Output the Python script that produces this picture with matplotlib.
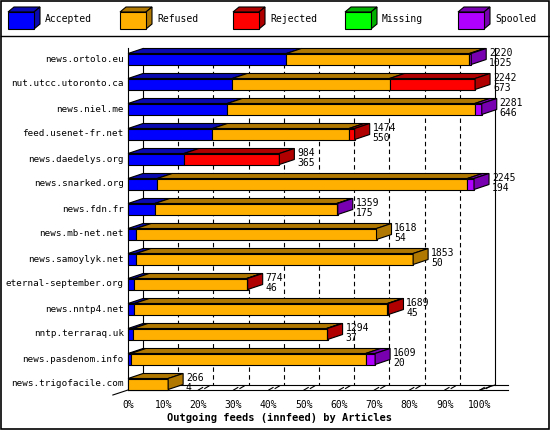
import matplotlib.pyplot as plt
from matplotlib.patches import Polygon, Rectangle

# ---- data (percent of articles per feed) ----
feeds = ['news.ortolo.eu', 'nut.utcc.utoronto.ca', 'news.niel.me', 'feed.usenet-fr.net',
         'news.daedelys.org', 'news.snarked.org', 'news.fdn.fr', 'news.mb-net.net',
         'news.samoylyk.net', 'eternal-september.org', 'news.nntp4.net', 'nntp.terraraq.uk',
         'news.pasdenom.info', 'news.trigofacile.com']
accepted = [45.0, 29.6, 28.2, 24.0, 15.9, 8.3, 7.6, 2.3, 2.3, 1.8, 1.8, 1.4, 0.8, 0.0]
refused = [52.0, 44.7, 70.3, 38.8, 0.0, 88.1, 51.7, 68.3, 78.7, 31.9, 71.9, 55.0, 66.7, 11.4]
rejected = [0.0, 24.3, 0.0, 1.6, 27.1, 0.0, 0.0, 0.0, 0.0, 0.3, 0.3, 0.3, 0.0, 0.0]
missing = [0.0] * 14
spooled = [0.5, 0.0, 2.0, 0.0, 0.0, 1.9, 0.3, 0.0, 0.0, 0.0, 0.0, 0.0, 2.7, 0.0]
offered = [2220, 2242, 2281, 1474, 984, 2245, 1359, 1618, 1853, 774, 1689, 1294, 1609, 266]
acc_count = [1025, 673, 646, 550, 365, 194, 175, 54, 50, 46, 45, 37, 20, 4]

series = [('Accepted', accepted, '#0000ff', '#0a0ab0'),
          ('Refused', refused, '#ffb000', '#b07800'),
          ('Rejected', rejected, '#ff0000', '#b00000'),
          ('Missing', missing, '#00ff00', '#00b000'),
          ('Spooled', spooled, '#b000ff', '#7800b0')]

MONO = 'DejaVu Sans Mono'
fig = plt.figure(figsize=(5.5, 4.3), dpi=100)

# background decoration axes in pixel units (frame + legend)
bg = fig.add_axes([0, 0, 1, 1])
bg.set_xlim(0, 550)
bg.set_ylim(430, 0)
bg.axis('off')
bg.add_patch(Rectangle((1, 1), 548, 428, fill=False, lw=1.2, ec='black'))
bg.plot([1, 549], [36, 36], color='black', lw=1)
leg_x = [8, 120, 233, 345, 458]
for (name, _, fc, dc), lx in zip(series, leg_x):
    bg.add_patch(Polygon([(lx, 12), (lx + 6, 7), (lx + 32, 7), (lx + 26, 12)], fc=dc, ec='black', lw=0.8))
    bg.add_patch(Polygon([(lx + 26, 12), (lx + 32, 7), (lx + 32, 24), (lx + 26, 29)], fc=dc, ec='black', lw=0.8))
    bg.add_patch(Rectangle((lx, 12), 26, 17, fc=fc, ec='black', lw=0.8))
    bg.text(lx + 37, 19, name, family=MONO, fontsize=7, va='center', ha='left')

# plot axes: x in percent (0..100 -> px 128..480), y in rows (row i front centre at px 59+25i)
x0, x1 = 128, 480
ytop_px, ybot_px = 40, 395
ax = fig.add_axes([x0 / 550, 1 - ybot_px / 430, (x1 - x0) / 550, (ybot_px - ytop_px) / 430])
ax.set_xlim(0, 100)
ax.set_ylim((ybot_px - 59) / 25, (ytop_px - 59) / 25)
ax.axis('off')

dx = 15 / 3.52
dy = 0.2
h = 0.44
ytop = (ytop_px - 59) / 25
floor_front = 13.24
floor_back = floor_front - dy

kw = dict(clip_on=False)
for p in range(10, 100, 10):
    ax.plot([p + dx, p + dx], [ytop + 0.3, floor_back], color='black', lw=0.8, ls=(0, (4, 3)), zorder=1, **kw)
ax.plot([dx, dx], [ytop + 0.3, floor_back], color='black', lw=0.8, zorder=1, **kw)
ax.plot([100 + dx, 100 + dx], [ytop + 0.3, floor_back], color='black', lw=0.8, zorder=1, **kw)
ax.plot([0, 0], [ytop + 0.3, floor_front], color='black', lw=0.8, zorder=1, **kw)
ax.plot([-4.3, 0], [floor_front + 0.2, floor_front], color='black', lw=0.8, **kw)
ax.plot([0, 108], [floor_front, floor_front], color='black', lw=0.8, **kw)
ax.plot([dx, 108], [floor_back, floor_back], color='black', lw=0.8, **kw)
ax.plot([100, 100 + dx], [floor_front, floor_back], color='black', lw=0.8, **kw)
for p in range(0, 110, 10):
    if p > 0:
        ax.plot([p, p + 1.2], [floor_front, floor_front - 0.1], color='black', lw=0.8, **kw)
        ax.plot([p + 1.8, p + 3], [floor_front - 0.06, floor_front - 0.16], color='black', lw=0.8, **kw)
    ax.text(p, floor_front + 0.6, f'{p}%', family=MONO, fontsize=7, ha='center', va='center', **kw)
ax.text(43, floor_front + 1.1, 'Outgoing feeds (innfeed) by Articles', family=MONO, fontsize=7.5,
        weight='bold', ha='center', va='center', **kw)

for i, feed in enumerate(feeds):
    top, bot = i - h / 2, i + h / 2
    ax.text(-1.2, i, feed, family=MONO, fontsize=6.7, ha='right', va='center', **kw)
    left = 0.0
    last = None
    for name, vals, fc, dc in series:
        v = vals[i]
        if v <= 0:
            continue
        r = left + v
        ax.add_patch(Polygon([(left, top), (r, top), (r + dx, top - dy), (left + dx, top - dy)],
                             fc=dc, ec='black', lw=0.8, zorder=3, **kw))
        ax.add_patch(Rectangle((left, top), v, h, fc=fc, ec='black', lw=0.8, zorder=4, **kw))
        last = (r, dc)
        left = r
    r, dc = last
    ax.add_patch(Polygon([(r, top), (r + dx, top - dy), (r + dx, bot - dy), (r, bot)],
                         fc=dc, ec='black', lw=0.8, zorder=5, **kw))
    ax.text(r + dx + 0.8, i - 0.05, f'{offered[i]}\n{acc_count[i]}', family=MONO, fontsize=7,
            ha='left', va='center', linespacing=0.95, zorder=6, **kw)

fig.savefig('out.png', dpi=100)
